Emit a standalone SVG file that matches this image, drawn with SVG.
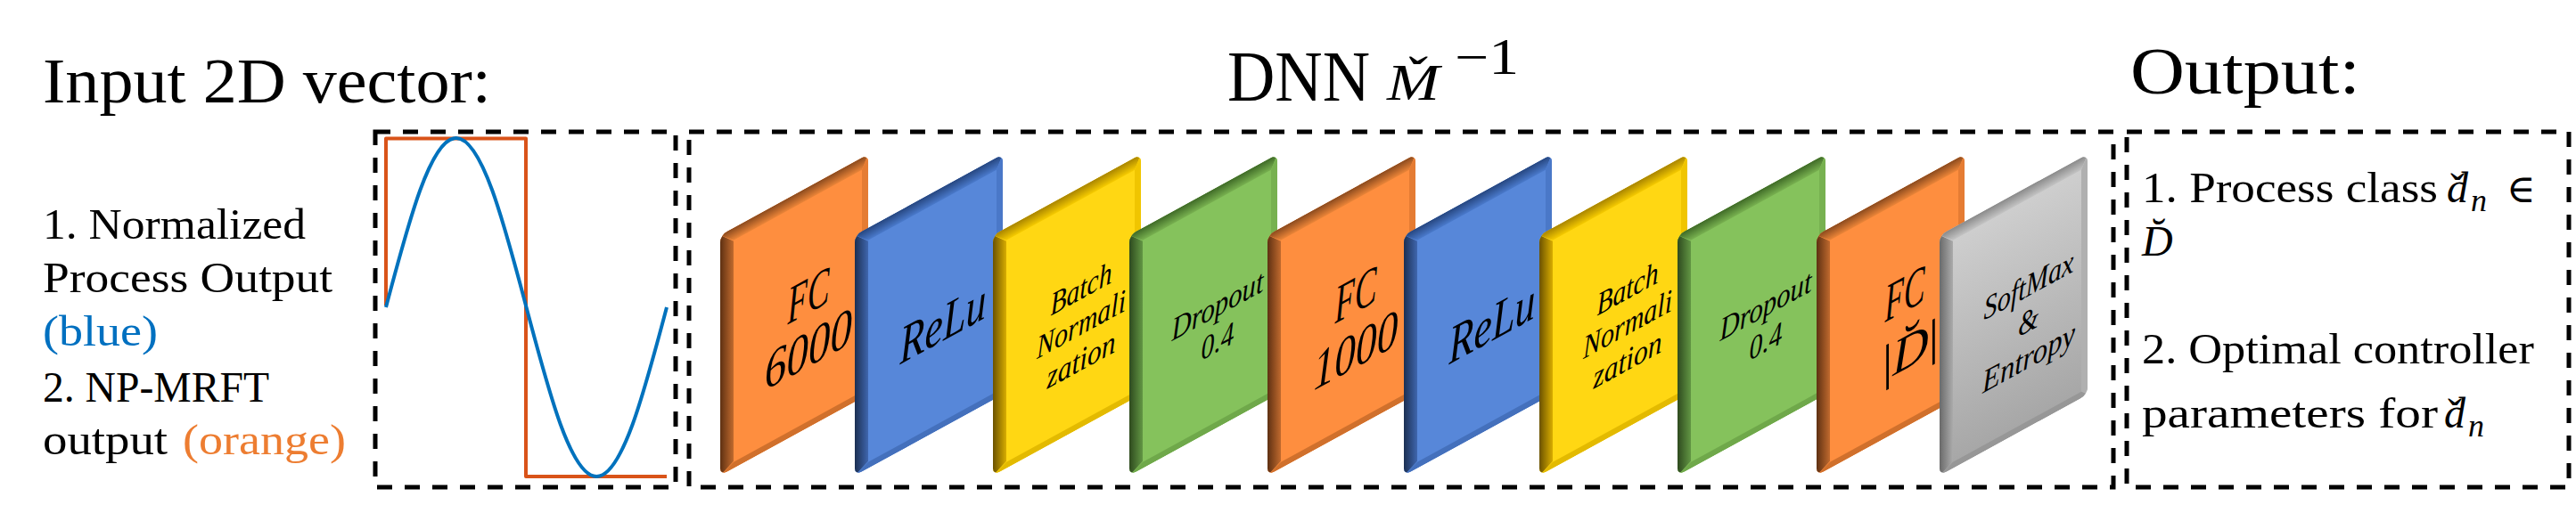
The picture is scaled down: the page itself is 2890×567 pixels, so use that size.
<svg xmlns="http://www.w3.org/2000/svg" width="2890" height="567" viewBox="0 0 2890 567">
<style>
.box{fill:none;stroke:#000;stroke-width:5;stroke-dasharray:17 14}
.t{font-family:"Liberation Serif","DejaVu Serif",serif;fill:#000}
.lab{font-family:"Liberation Serif","DejaVu Serif",serif;font-style:italic;fill:#000}
</style>
<defs>
<clipPath id="sc"><rect width="166" height="270" rx="8"/></clipPath>
<linearGradient id="oL"><stop offset="0" stop-color="#5E3012"/><stop offset="1" stop-color="#C06A2E"/></linearGradient>
<linearGradient id="oT" x2="0" y2="1"><stop offset="0" stop-color="#8A4A1E"/><stop offset="1" stop-color="#EC8538"/></linearGradient>
<linearGradient id="bL"><stop offset="0" stop-color="#1B2F52"/><stop offset="1" stop-color="#3F66AE"/></linearGradient>
<linearGradient id="bT" x2="0" y2="1"><stop offset="0" stop-color="#26467F"/><stop offset="1" stop-color="#4A7ACC"/></linearGradient>
<linearGradient id="yL"><stop offset="0" stop-color="#6B5200"/><stop offset="1" stop-color="#D8AC00"/></linearGradient>
<linearGradient id="yT" x2="0" y2="1"><stop offset="0" stop-color="#A88400"/><stop offset="1" stop-color="#F6CB00"/></linearGradient>
<linearGradient id="gL"><stop offset="0" stop-color="#2E4A1E"/><stop offset="1" stop-color="#629644"/></linearGradient>
<linearGradient id="gT" x2="0" y2="1"><stop offset="0" stop-color="#3F6A27"/><stop offset="1" stop-color="#78B150"/></linearGradient>
<linearGradient id="sL"><stop offset="0" stop-color="#6A6A6A"/><stop offset="1" stop-color="#ABABAB"/></linearGradient>
<linearGradient id="sT" x2="0" y2="1"><stop offset="0" stop-color="#8A8A8A"/><stop offset="1" stop-color="#C4C4C4"/></linearGradient>
<linearGradient id="sF" x2="0" y2="1"><stop offset="0" stop-color="#D0D0D0"/><stop offset="1" stop-color="#A6A6A6"/></linearGradient>
</defs>

<g id="input-title">
<text class="t" x="48" y="115" font-size="72" textLength="503" lengthAdjust="spacingAndGlyphs">Input 2D vector:</text>
</g>
<g id="input-legend" font-size="48">
<text class="t" x="48" y="268" textLength="295" lengthAdjust="spacingAndGlyphs">1. Normalized</text>
<text class="t" x="48" y="328" textLength="325" lengthAdjust="spacingAndGlyphs">Process Output</text>
<text class="t" x="48" y="388" textLength="129" lengthAdjust="spacingAndGlyphs" style="fill:#0070C0">(blue)</text>
<text class="t" x="48" y="451" textLength="254" lengthAdjust="spacingAndGlyphs">2. NP-MRFT</text>
<text class="t" x="48" y="510" textLength="140" lengthAdjust="spacingAndGlyphs">output</text>
<text class="t" x="205" y="510" textLength="183" lengthAdjust="spacingAndGlyphs" style="fill:#ED7D31">(orange)</text>
</g>

<g id="input-plot">
<rect class="box" x="421" y="148" width="337" height="399"/>
<path d="M433,343V155.5H590V535H748" fill="none" stroke="#D95319" stroke-width="4" stroke-linejoin="round"/>
<path d="M433,345C458.68,247.7 483.25,155 511.75,155C540.25,155 564.82,247.7 590.5,345C616.18,442.3 640.75,535 669.25,535C697.75,535 722.32,442.3 748,345" fill="none" stroke="#0072BD" stroke-width="4"/>
</g>

<g id="dnn-title">
<text class="t" x="1377" y="113" font-size="80" textLength="160" lengthAdjust="spacingAndGlyphs">DNN</text>
<text class="lab" transform="translate(1556,112) scale(1.22,1)" font-size="58">M&#x30C;</text>
<text class="t" x="1632" y="83" font-size="56" textLength="72" lengthAdjust="spacingAndGlyphs">&#x2212;1</text>
</g>

<g id="dnn-box">
<rect class="box" x="773" y="148" width="1598" height="399"/>
</g>

<g id="layer1-fc6000" transform="matrix(1,-0.548,0,1,808,264)">
<g clip-path="url(#sc)">
<rect width="166" height="270" fill="#FE8E3F"/>
<path d="M0,0L15,15V262L0,270Z" fill="url(#oL)"/>
<path d="M0,0H166L159,14H15Z" fill="url(#oT)"/>
<path d="M166,0V270L159,263V14Z" fill="#E57C33"/>
<path d="M0,270H166L159,263H15Z" fill="#D0702C"/>
</g>
<text class="lab" x="75.5" y="142" font-size="60" textLength="47" lengthAdjust="spacingAndGlyphs">FC</text>
<text class="lab" x="50" y="202" font-size="60" textLength="98" lengthAdjust="spacingAndGlyphs">6000</text>
</g>

<g id="layer2-relu" transform="matrix(1,-0.548,0,1,959,264)">
<g clip-path="url(#sc)">
<rect width="166" height="270" fill="#5787D9"/>
<path d="M0,0L15,15V262L0,270Z" fill="url(#bL)"/>
<path d="M0,0H166L159,14H15Z" fill="url(#bT)"/>
<path d="M166,0V270L159,263V14Z" fill="#4A78C8"/>
<path d="M0,270H166L159,263H15Z" fill="#4470BC"/>
</g>
<text class="lab" x="50.5" y="173" font-size="60" textLength="97" lengthAdjust="spacingAndGlyphs">ReLu</text>
</g>

<g id="layer3-batchnorm" transform="matrix(1,-0.548,0,1,1114,264)">
<g clip-path="url(#sc)">
<rect width="166" height="270" fill="#FFD713"/>
<path d="M0,0L15,15V262L0,270Z" fill="url(#yL)"/>
<path d="M0,0H166L159,14H15Z" fill="url(#yT)"/>
<path d="M166,0V270L159,263V14Z" fill="#F0C500"/>
<path d="M0,270H166L159,263H15Z" fill="#E3BA00"/>
</g>
<text class="lab" x="64.5" y="126" font-size="36" textLength="69" lengthAdjust="spacingAndGlyphs">Batch</text>
<text class="lab" x="49" y="166" font-size="36" textLength="100" lengthAdjust="spacingAndGlyphs">Normali</text>
<text class="lab" x="60.5" y="206" font-size="36" textLength="77" lengthAdjust="spacingAndGlyphs">zation</text>
</g>

<g id="layer4-dropout" transform="matrix(1,-0.548,0,1,1267,264)">
<g clip-path="url(#sc)">
<rect width="166" height="270" fill="#85C25C"/>
<path d="M0,0L15,15V262L0,270Z" fill="url(#gL)"/>
<path d="M0,0H166L159,14H15Z" fill="url(#gT)"/>
<path d="M166,0V270L159,263V14Z" fill="#77B150"/>
<path d="M0,270H166L159,263H15Z" fill="#6FA84A"/>
</g>
<text class="lab" x="47.5" y="145" font-size="36" textLength="103" lengthAdjust="spacingAndGlyphs">Dropout</text>
<text class="lab" x="80.5" y="185" font-size="36" textLength="37" lengthAdjust="spacingAndGlyphs">0.4</text>
</g>

<g id="layer5-fc1000" transform="matrix(1,-0.548,0,1,1422,264)">
<g clip-path="url(#sc)">
<rect width="166" height="270" fill="#FE8E3F"/>
<path d="M0,0L15,15V262L0,270Z" fill="url(#oL)"/>
<path d="M0,0H166L159,14H15Z" fill="url(#oT)"/>
<path d="M166,0V270L159,263V14Z" fill="#E57C33"/>
<path d="M0,270H166L159,263H15Z" fill="#D0702C"/>
</g>
<text class="lab" x="75.5" y="141" font-size="60" textLength="47" lengthAdjust="spacingAndGlyphs">FC</text>
<text class="lab" x="51.5" y="203" font-size="60" textLength="95" lengthAdjust="spacingAndGlyphs">1000</text>
</g>

<g id="layer6-relu" transform="matrix(1,-0.548,0,1,1575,264)">
<g clip-path="url(#sc)">
<rect width="166" height="270" fill="#5787D9"/>
<path d="M0,0L15,15V262L0,270Z" fill="url(#bL)"/>
<path d="M0,0H166L159,14H15Z" fill="url(#bT)"/>
<path d="M166,0V270L159,263V14Z" fill="#4A78C8"/>
<path d="M0,270H166L159,263H15Z" fill="#4470BC"/>
</g>
<text class="lab" x="50.5" y="173" font-size="60" textLength="97" lengthAdjust="spacingAndGlyphs">ReLu</text>
</g>

<g id="layer7-batchnorm" transform="matrix(1,-0.548,0,1,1727,264)">
<g clip-path="url(#sc)">
<rect width="166" height="270" fill="#FFD713"/>
<path d="M0,0L15,15V262L0,270Z" fill="url(#yL)"/>
<path d="M0,0H166L159,14H15Z" fill="url(#yT)"/>
<path d="M166,0V270L159,263V14Z" fill="#F0C500"/>
<path d="M0,270H166L159,263H15Z" fill="#E3BA00"/>
</g>
<text class="lab" x="64.5" y="126" font-size="36" textLength="69" lengthAdjust="spacingAndGlyphs">Batch</text>
<text class="lab" x="49" y="166" font-size="36" textLength="100" lengthAdjust="spacingAndGlyphs">Normali</text>
<text class="lab" x="60.5" y="206" font-size="36" textLength="77" lengthAdjust="spacingAndGlyphs">zation</text>
</g>

<g id="layer8-dropout" transform="matrix(1,-0.548,0,1,1882,264)">
<g clip-path="url(#sc)">
<rect width="166" height="270" fill="#85C25C"/>
<path d="M0,0L15,15V262L0,270Z" fill="url(#gL)"/>
<path d="M0,0H166L159,14H15Z" fill="url(#gT)"/>
<path d="M166,0V270L159,263V14Z" fill="#77B150"/>
<path d="M0,270H166L159,263H15Z" fill="#6FA84A"/>
</g>
<text class="lab" x="47.5" y="145" font-size="36" textLength="103" lengthAdjust="spacingAndGlyphs">Dropout</text>
<text class="lab" x="80.5" y="185" font-size="36" textLength="37" lengthAdjust="spacingAndGlyphs">0.4</text>
</g>

<g id="layer9-fc-out" transform="matrix(1,-0.548,0,1,2038,264)">
<g clip-path="url(#sc)">
<rect width="166" height="270" fill="#FE8E3F"/>
<path d="M0,0L15,15V262L0,270Z" fill="url(#oL)"/>
<path d="M0,0H166L159,14H15Z" fill="url(#oT)"/>
<path d="M166,0V270L159,263V14Z" fill="#E57C33"/>
<path d="M0,270H166L159,263H15Z" fill="#D0702C"/>
</g>
<text class="lab" x="76.5" y="140" font-size="60" textLength="45" lengthAdjust="spacingAndGlyphs">FC</text>
<text class="lab" x="74" y="205" font-size="56"><tspan font-style="normal">|</tspan>D&#x306;<tspan font-style="normal">|</tspan></text>
</g>

<g id="layer10-softmax" transform="matrix(1,-0.548,0,1,2176,264)">
<g clip-path="url(#sc)">
<rect width="166" height="270" fill="url(#sF)"/>
<path d="M0,0L15,15V262L0,270Z" fill="url(#sL)"/>
<path d="M0,0H166L159,14H15Z" fill="url(#sT)"/>
<path d="M166,0V270L159,263V14Z" fill="#B0B0B0"/>
<path d="M0,270H166L159,263H15Z" fill="#979797"/>
</g>
<text class="lab" x="49.5" y="123" font-size="36" textLength="101" lengthAdjust="spacingAndGlyphs">SoftMax</text>
<text class="lab" x="88" y="163" font-size="36" textLength="23" lengthAdjust="spacingAndGlyphs">&amp;</text>
<text class="lab" x="48" y="204" font-size="36" textLength="104" lengthAdjust="spacingAndGlyphs">Entropy</text>
</g>

<g id="output-title">
<text class="t" x="2390" y="105" font-size="74" textLength="258" lengthAdjust="spacingAndGlyphs">Output:</text>
</g>

<g id="output-box">
<rect class="box" x="2386" y="148" width="496" height="399"/>
<text class="t" x="2403" y="227" font-size="48" textLength="332" lengthAdjust="spacingAndGlyphs">1. Process class</text>
<text class="lab" font-size="48"><tspan x="2745" y="227">d</tspan><tspan x="2749" y="229" font-style="normal">&#x2C7;</tspan><tspan x="2772" y="237" font-size="36">n</tspan><tspan x="2812" y="227" font-style="normal" font-size="44">&#x2208;</tspan></text>
<text class="lab" x="2403" y="287" font-size="48">D&#x306;</text>
<text class="t" x="2403" y="408" font-size="48" textLength="440" lengthAdjust="spacingAndGlyphs">2. Optimal controller</text>
<text class="t" x="2403" y="480" font-size="48" textLength="332" lengthAdjust="spacingAndGlyphs">parameters for</text>
<text class="lab" font-size="48"><tspan x="2742" y="480">d</tspan><tspan x="2746" y="482" font-style="normal">&#x2C7;</tspan><tspan x="2769" y="490" font-size="36">n</tspan></text>
</g>

<g id="connectors"/>
</svg>
